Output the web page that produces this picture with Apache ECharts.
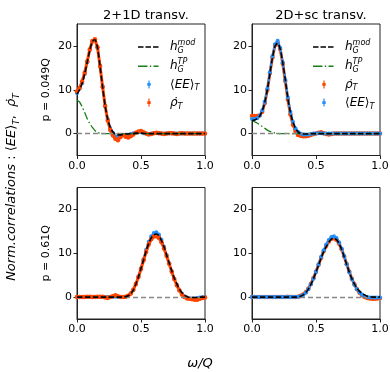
<!DOCTYPE html>
<html>
<head>
<meta charset="utf-8">
<script src="https://cdn.jsdelivr.net/npm/echarts@6/dist/echarts.min.js"></script>
<style>
  html, body { margin: 0; padding: 0; background: #fff; }
  #chart { width: 390px; height: 372px; }
</style>
</head>
<body>
<div id="chart"></div>
<script>
// omega/Q sample points
const xs = [0, 0.02, 0.04, 0.06, 0.08, 0.1, 0.12, 0.14, 0.16, 0.18, 0.2, 0.22, 0.24, 0.26, 0.28, 0.3, 0.32, 0.34, 0.36, 0.38,
  0.4, 0.42, 0.44, 0.46, 0.48, 0.5, 0.52, 0.54, 0.56, 0.58, 0.6, 0.62, 0.64, 0.66, 0.68, 0.7, 0.72, 0.74, 0.76, 0.78,
  0.8, 0.82, 0.84, 0.86, 0.88, 0.9, 0.92, 0.94, 0.96, 0.98, 1]

const yTicks = [0, 10, 20]

// 2+1D transv., p = 0.049Q
const hModA = [9.0, 10.0, 11.5, 13.6, 16.3, 19.0, 21.0, 21.4, 19.6, 15.3, 10.6, 6.3, 3.3, 1.4, 0.4, -0.1, -0.3, -0.3, -0.2, -0.1,
  -0.1, 0, 0, 0.1, 0.1, 0.1, 0.05, 0, 0, 0, 0, 0, 0, 0, 0, 0, 0, 0, 0, 0,
  0, 0, 0, 0, 0, 0, 0, 0, 0, 0, 0]
const hTpA = [7.6, 7.2, 6.1, 4.8, 3.4, 2.3, 1.4, 0.7, 0.3, 0.1, 0, 0, 0, 0, 0, 0, 0, 0, 0, 0,
  0, 0, 0, 0, 0, 0, 0, 0, 0, 0, 0, 0, 0, 0, 0, 0, 0, 0, 0, 0,
  0, 0, 0, 0, 0, 0, 0, 0, 0, 0, 0]
const eeA = [9.2, 10.2, 11.5, 13.6, 16.3, 19.1, 21.0, 21.3, 19.6, 15.3, 10.6, 6.3, 3.3, 1.3, 0.2, -0.6, -0.8, -0.4, -0.3, -0.5,
  -0.4, -0.1, 0.1, 0.2, 0.3, 0.3, 0.1, 0, -0.1, 0, 0.1, 0.1, 0.1, 0, 0, 0, 0.1, 0, 0, 0,
  0, 0, 0, 0, 0, 0, 0, 0, 0, 0, 0]
const rhoA = [9.6, 10.4, 11.9, 13.9, 16.5, 19.2, 21.1, 21.5, 19.7, 15.4, 10.7, 6.3, 3.0, 0.8, -0.4, -1.2, -1.5, -0.8, -0.3, -0.7,
  -0.9, -0.6, -0.2, 0.2, 0.5, 0.6, 0.3, 0, -0.2, -0.1, 0.1, 0.2, 0.1, 0, -0.1, 0, 0.1, 0.1, 0, -0.1,
  0, 0.1, 0, 0, 0, 0, 0, 0, 0, 0, 0]

// 2D+sc transv., p = 0.049Q
const hModB = [3.0, 3.1, 3.4, 4.0, 5.2, 7.2, 10.0, 13.7, 17.3, 19.9, 20.6, 19.3, 16.2, 12.3, 8.1, 4.9, 2.6, 1.2, 0.4, 0,
  -0.1, -0.1, -0.1, 0, 0, 0, 0, 0, 0, 0, 0, 0, 0, 0, 0, 0, 0, 0, 0, 0,
  0, 0, 0, 0, 0, 0, 0, 0, 0, 0, 0]
const hTpB = [3.0, 2.7, 2.4, 2.0, 1.6, 1.2, 0.8, 0.5, 0.3, 0.1, 0, 0, 0, 0, 0, 0, 0, 0, 0, 0,
  0, 0, 0, 0, 0, 0, 0, 0, 0, 0, 0, 0, 0, 0, 0, 0, 0, 0, 0, 0,
  0, 0, 0, 0, 0, 0, 0, 0, 0, 0, 0]
const rhoB = [4.0, 4.0, 4.0, 4.1, 5.0, 7.0, 10.0, 13.8, 17.4, 20.2, 20.8, 19.3, 16.0, 12.0, 7.8, 4.4, 2.0, 0.5, -0.3, -0.5,
  -0.6, -0.6, -0.5, -0.3, -0.1, 0, 0.2, 0.3, 0.1, -0.1, -0.2, -0.1, 0, 0, 0, 0, 0, 0, 0, 0,
  0, 0, 0, 0, 0, 0, 0, 0, 0, 0, 0]
const eeB = [3.3, 3.3, 3.5, 4.1, 5.3, 7.3, 10.3, 14.0, 17.7, 20.4, 21.2, 19.6, 16.2, 12.3, 8.3, 5.0, 2.7, 1.2, 0.4, 0,
  -0.2, -0.2, -0.2, -0.1, 0, 0, 0.1, 0.1, 0, 0, 0, 0, 0, 0, 0, 0, 0, 0, 0, 0,
  0, 0, 0, 0, 0, 0, 0, 0, 0, 0, 0]

// 2+1D transv., p = 0.61Q
const hModC = [0, 0, 0, 0, 0, 0, 0, 0, 0, 0, 0, 0, 0, 0, 0, 0, 0, 0, 0, 0.1,
  0.3, 0.8, 1.6, 3.0, 4.6, 6.5, 8.5, 10.5, 12.2, 13.5, 14.2, 14.4, 14.0, 12.9, 11.4, 9.6, 7.8, 6.0, 4.3, 3.0,
  1.8, 1.0, 0.4, 0.1, -0.1, -0.1, -0.1, -0.1, 0, 0, 0]
const eeC = [0, 0, 0, 0, 0, 0, 0, 0.1, 0, 0, 0, 0, 0, 0, 0.1, 0.1, 0, 0, 0, 0.1,
  0.3, 0.8, 1.6, 3.0, 4.7, 6.6, 8.7, 10.8, 12.6, 13.9, 14.6, 14.8, 14.3, 13.1, 11.5, 9.6, 7.7, 5.9, 4.2, 2.8,
  1.6, 0.8, 0.2, -0.1, -0.3, -0.3, -0.3, -0.2, -0.1, 0, 0]
const rhoC = [0, 0, 0, 0, 0.1, 0.1, 0, 0, 0.1, 0.1, 0.1, -0.1, -0.2, 0, 0.2, 0.4, 0.2, 0, 0, 0.1,
  0.3, 0.8, 1.7, 3.0, 4.6, 6.4, 8.4, 10.3, 12.0, 13.2, 13.8, 13.9, 13.5, 12.5, 11.1, 9.4, 7.6, 5.8, 4.1, 2.7,
  1.5, 0.6, 0, -0.3, -0.4, -0.5, -0.6, -0.6, -0.4, -0.2, -0.1]

// 2D+sc transv., p = 0.61Q
const hModD = [0, 0, 0, 0, 0, 0, 0, 0, 0, 0, 0, 0, 0, 0, 0, 0, 0, 0, 0.1, 0.2,
  0.5, 1.0, 1.8, 2.9, 4.2, 5.7, 7.3, 8.9, 10.3, 11.5, 12.5, 13.2, 13.4, 13.1, 12.2, 10.9, 9.2, 7.4, 5.7, 4.2,
  3.0, 2.0, 1.3, 0.8, 0.5, 0.2, 0.1, 0, 0, 0, 0]
const eeD = [0, 0, 0, 0, 0, 0, 0, 0, 0, 0, 0, 0, 0, 0, 0, 0, 0, 0, 0.1, 0.2,
  0.5, 1.0, 1.8, 2.9, 4.2, 5.8, 7.5, 9.2, 10.7, 12.0, 13.0, 13.7, 13.9, 13.5, 12.5, 11.1, 9.4, 7.5, 5.7, 4.1,
  2.8, 1.8, 1.1, 0.6, 0.2, 0, -0.1, -0.1, -0.1, -0.1, -0.1]
const rhoD = [0, 0, 0, 0, 0, 0, 0, 0, 0, 0, 0, 0, 0, 0, 0.1, 0, 0, 0, 0.1, 0.3,
  0.6, 1.1, 1.9, 3.0, 4.3, 5.8, 7.4, 9.0, 10.5, 11.7, 12.7, 13.3, 13.4, 13.1, 12.2, 10.9, 9.3, 7.5, 5.8, 4.2,
  2.9, 1.8, 1.0, 0.4, 0, -0.2, -0.3, -0.4, -0.4, -0.3, -0.2]

const titles = ['2+1D transv.', '2D+sc transv.']
const rowNames = ['p = 0.049Q', 'p = 0.61Q']

const FONT = 'DejaVu Sans'
const BLUE = '#1e90ff'
const ORANGE = '#ff4500'
const GREEN = '#1a7f1a'

// panel layout (pixels): [left, top], rho on top of EE in the left column
const panels = [
  { left: 77, top: 24, hMod: hModA, hTp: hTpA, ee: eeA, rho: rhoA, rhoOnTop: true, row: 0 },
  { left: 252, top: 24, hMod: hModB, hTp: hTpB, ee: eeB, rho: rhoB, rhoOnTop: false, row: 0 },
  { left: 77, top: 187.5, hMod: hModC, hTp: null, ee: eeC, rho: rhoC, rhoOnTop: true, row: 1 },
  { left: 252, top: 187.5, hMod: hModD, hTp: null, ee: eeD, rho: rhoD, rhoOnTop: false, row: 1 }
]

const pts = (arr) => xs.map((x, i) => [x, arr[i]])

// legend icons, drawn in a 27x14 box (corner points keep the box size)
const BOX = 'M0,0L0,0M27,14L27,14'
const iconDash = 'path://' + BOX + 'M0,6.25L5.5,6.25L5.5,7.75L0,7.75ZM7.5,6.25L13,6.25L13,7.75L7.5,7.75ZM15,6.25L20.5,6.25L20.5,7.75L15,7.75Z'
const iconDashDot = 'path://' + BOX + 'M0,6.3L9.5,6.3L9.5,7.7L0,7.7ZM11.8,6.3L13.2,6.3L13.2,7.7L11.8,7.7ZM15.5,6.3L20.5,6.3L20.5,7.7L15.5,7.7Z'
const iconErr = 'path://' + BOX + 'M10.4,3L11.6,3L11.6,11L10.4,11ZM9.3,5.7L12.7,5.7L12.7,8.3L9.3,8.3Z'

const legendText = {
  hmod: '{i|h}{subz|G}{sup|mod}',
  htp: '{i|h}{subz|G}{sup|TP}',
  EE: '{n|⟨}{i|EE}{n|⟩}{sub|T}',
  rho: '{i|ρ̇}{sub|T}'
}
const legendIcons = { hmod: iconDash, htp: iconDashDot, EE: iconErr, rho: iconErr }

function makeLegend(left, order) {
  return {
    orient: 'vertical',
    left: left,
    top: 34,
    itemGap: 3.2,
    itemWidth: 27,
    itemHeight: 14,
    selectedMode: false,
    itemStyle: { borderWidth: 0 },
    data: order.map(n => ({ name: n, icon: legendIcons[n] })),
    formatter: n => legendText[n],
    textStyle: {
      fontFamily: FONT,
      color: '#000',
      rich: {
        i: { fontFamily: FONT, fontStyle: 'italic', fontSize: 12, lineHeight: 16 },
        n: { fontFamily: FONT, fontSize: 12, lineHeight: 16 },
        sub: { fontFamily: FONT, fontStyle: 'italic', fontSize: 8, lineHeight: 8, verticalAlign: 'bottom' },
        subz: { fontFamily: FONT, fontStyle: 'italic', fontSize: 8, lineHeight: 8, verticalAlign: 'bottom', width: 0 },
        sup: { fontFamily: FONT, fontStyle: 'italic', fontSize: 8, lineHeight: 8, verticalAlign: 'top' }
      }
    }
  }
}

const axisLine = { show: true, onZero: false, lineStyle: { color: '#222', width: 1 } }
const tickLabel = { fontFamily: FONT, fontSize: 11, color: '#000' }

const grids = []
const xAxes = []
const yAxes = []
const series = []

panels.forEach((p, k) => {
  grids.push({
    left: p.left, top: p.top, width: 128, height: 131.5,
    show: true, borderColor: '#222', borderWidth: 1,
    outerBoundsMode: 'none'
  })
  xAxes.push({
    gridIndex: k, type: 'value', min: 0, max: 1, interval: 0.5,
    axisLine: axisLine,
    axisTick: { show: true, length: 3.5, lineStyle: { color: '#222' } },
    axisLabel: Object.assign({ margin: 5, formatter: v => v.toFixed(1) }, tickLabel),
    splitLine: { show: false }
  })
  yAxes.push({
    gridIndex: k, type: 'value', min: -5, max: 25,
    axisLine: axisLine,
    axisTick: { show: true, length: 3.5, customValues: yTicks, lineStyle: { color: '#222' } },
    axisLabel: Object.assign({ margin: 5, customValues: yTicks }, tickLabel),
    splitLine: { show: false },
    name: k % 2 === 0 ? rowNames[p.row] : '',
    nameLocation: 'middle',
    nameRotate: 90,
    nameGap: 25,
    nameTextStyle: { fontFamily: FONT, fontSize: 11, color: '#000' }
  })

  const common = { xAxisIndex: k, yAxisIndex: k, animation: false, silent: true }

  // dashed zero reference
  series.push(Object.assign({
    type: 'line', name: 'zero', data: [], z: 1,
    markLine: {
      silent: true, symbol: 'none', label: { show: false }, animation: false,
      lineStyle: { color: '#888', type: [5, 3], width: 1.3 },
      data: [{ yAxis: 0 }]
    }
  }, common))

  series.push(Object.assign({
    type: 'line', name: 'EE', data: pts(p.ee), z: p.rhoOnTop ? 2 : 3,
    color: BLUE, symbol: 'circle', symbolSize: 4, showAllSymbol: true,
    itemStyle: { color: BLUE },
    lineStyle: { color: BLUE, width: 2 }
  }, common))
  series.push(Object.assign({
    type: 'line', name: 'rho', data: pts(p.rho), z: p.rhoOnTop ? 3 : 2,
    color: ORANGE, symbol: 'circle', symbolSize: 4.5, showAllSymbol: true,
    itemStyle: { color: ORANGE },
    lineStyle: { color: ORANGE, width: 3 }
  }, common))
  if (p.hTp) {
    series.push(Object.assign({
      type: 'line', name: 'htp', data: pts(p.hTp), z: 4,
      color: GREEN, symbol: 'none', smooth: 0.3,
      itemStyle: { color: GREEN },
      lineStyle: { color: GREEN, width: 1.3, type: [8, 2.5, 1.5, 2.5] }
    }, common))
  }
  series.push(Object.assign({
    type: 'line', name: 'hmod', data: pts(p.hMod), z: 5,
    color: '#000', symbol: 'none', smooth: 0.3,
    itemStyle: { color: '#000' },
    lineStyle: { color: '#000', width: 1.6, type: [5.5, 2.4] }
  }, common))
})

const chart = echarts.init(document.getElementById('chart'), null, { renderer: 'canvas' })

chart.setOption({
  animation: false,
  backgroundColor: '#fff',
  title: titles.map((t, i) => ({
    text: t,
    left: i === 0 ? 141 : 316,
    top: 4,
    textAlign: 'center',
    textStyle: { fontFamily: FONT, fontSize: 13, fontWeight: 'normal', color: '#000' }
  })),
  legend: [
    makeLegend(133, ['hmod', 'htp', 'EE', 'rho']),
    makeLegend(308, ['hmod', 'htp', 'rho', 'EE'])
  ],
  grid: grids,
  xAxis: xAxes,
  yAxis: yAxes,
  series: series,
  graphic: [
    {
      type: 'text', x: 12, y: 187, rotation: Math.PI / 2,
      style: {
        text: '{i|Norm.correlations}{n| : }{n|⟨}{i|EE}{n|⟩}{s|T}{n|,  }{i|ρ̇}{s|T}',
        align: 'center', verticalAlign: 'middle', fill: '#000',
        rich: {
          i: { fontFamily: FONT, fontStyle: 'italic', fontSize: 13, lineHeight: 18 },
          n: { fontFamily: FONT, fontSize: 13, lineHeight: 18 },
          s: { fontFamily: FONT, fontStyle: 'italic', fontSize: 9, lineHeight: 9, verticalAlign: 'bottom' }
        }
      }
    },
    {
      type: 'text', x: 200, y: 364,
      style: {
        text: 'ω/Q', align: 'center', verticalAlign: 'middle', fill: '#000',
        font: 'italic 13px "DejaVu Sans"'
      }
    }
  ]
})
</script>
</body>
</html>
